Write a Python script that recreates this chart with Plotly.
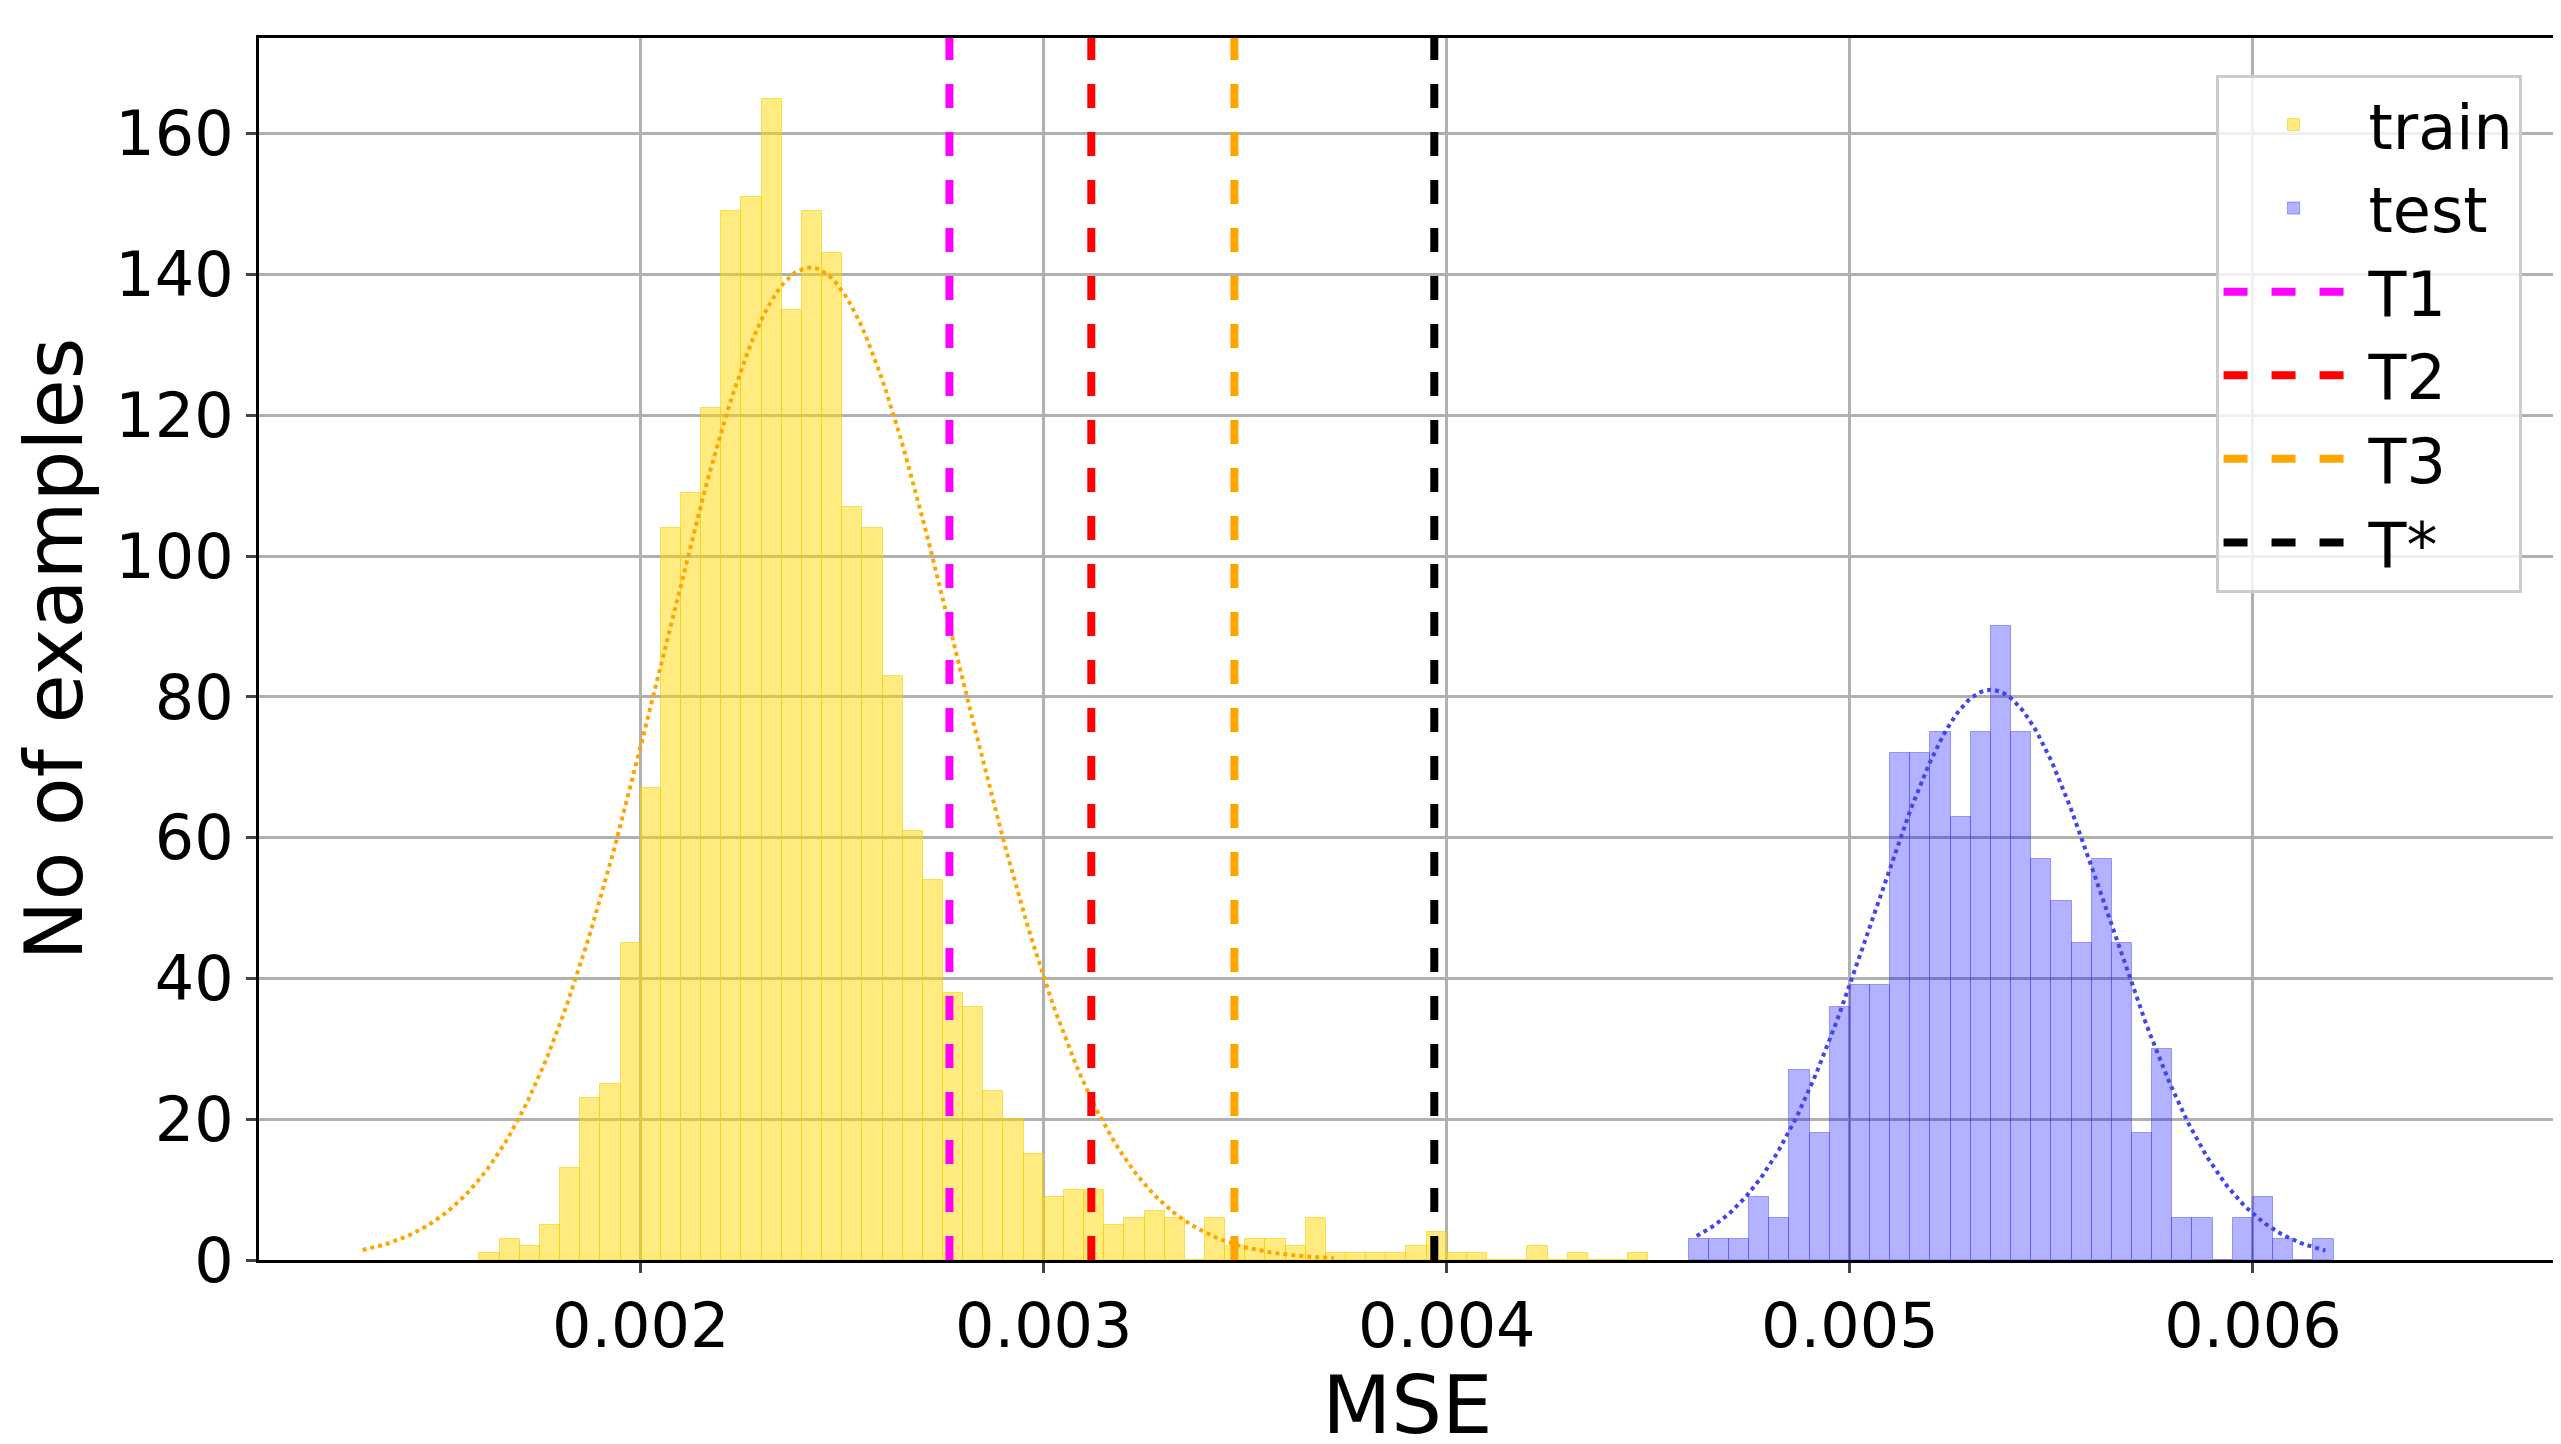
import numpy as np
import plotly.graph_objects as go

bin_w = 0.00005
train_start = 0.0016
train_counts = [1, 3, 2, 5, 13, 23, 25, 45, 67, 104, 109, 121, 149, 151, 165, 135, 149, 143,
                107, 104, 83, 61, 54, 38, 36, 24, 20, 15, 9, 10, 10, 5, 6, 7, 6, 0, 6, 2,
                3, 3, 2, 6, 1, 1, 1, 1, 2, 4, 1, 1, 0, 0, 2, 0, 1, 0, 0, 1]
test_start = 0.0046
test_counts = [3, 3, 3, 9, 6, 27, 18, 36, 39, 39, 72, 72, 75, 63, 75, 90, 75, 57, 51, 45,
               57, 45, 18, 30, 6, 6, 0, 6, 9, 3, 0, 3]
thresholds = {"T1": 0.002766, "T2": 0.003118, "T3": 0.003473, "T*": 0.003969}
thr_colors = {"T1": "#ff00ff", "T2": "#ff0000", "T3": "#ffa500", "T*": "#000000"}
# fitted normal curves: (mean, std, peak, x-from, x-to)
train_fit = (0.00242, 0.000366, 141, 0.00131, 0.00372)
test_fit = (0.00535, 0.00029, 81, 0.00462, 0.00618)

train_x = [train_start + bin_w * (i + 0.5) for i in range(len(train_counts))]
test_x = [test_start + bin_w * (i + 0.5) for i in range(len(test_counts))]

fig = go.Figure()
fig.add_bar(x=train_x, y=train_counts, width=bin_w, name="train",
            marker=dict(color="rgba(255,215,0,0.5)", line=dict(color="rgba(245,205,0,0.6)", width=1)))
fig.add_bar(x=test_x, y=test_counts, width=bin_w, name="test",
            marker=dict(color="rgba(0,0,255,0.3)", line=dict(color="rgba(60,60,255,0.45)", width=1)))

for name, (m, s, pk, a, b), col in [("trainfit", train_fit, "orange"), ("testfit", test_fit, "#4444ee")]:
    xs = np.linspace(a, b, 200)
    fig.add_scatter(x=xs, y=pk * np.exp(-(xs - m) ** 2 / (2 * s ** 2)), mode="lines",
                    line=dict(color=col, width=4, dash="dot"), showlegend=False)

for k, v in thresholds.items():
    fig.add_scatter(x=[v, v], y=[0, 173.6], mode="lines", name=k,
                    line=dict(color=thr_colors[k], width=8, dash="dash"))

axis = dict(showgrid=True, gridcolor="#b0b0b0", gridwidth=3, showline=True, linecolor="black",
            linewidth=3, mirror=True, ticks="outside", ticklen=10, tickwidth=3,
            tickfont=dict(size=62, color="black"), zeroline=False)
fig.update_xaxes(**axis, range=[0.001053, 0.006752], tickvals=[0.002, 0.003, 0.004, 0.005, 0.006],
                 ticktext=["0.002", "0.003", "0.004", "0.005", "0.006"],
                 title=dict(text="MSE", font=dict(size=80, color="black"), standoff=10))
fig.update_yaxes(**axis, range=[0, 173.6], tickvals=list(range(0, 161, 20)),
                 title=dict(text="No of examples", font=dict(size=80, color="black"), standoff=15))
fig.update_layout(width=2561, height=1444, barmode="overlay", bargap=0,
                  plot_bgcolor="white", paper_bgcolor="white",
                  font=dict(family="DejaVu Sans", color="black"),
                  margin=dict(l=251, r=10, t=30, b=192),
                  legend=dict(x=0.985, y=0.97, xanchor="right", yanchor="top",
                              font=dict(size=62), bordercolor="#cccccc", borderwidth=3,
                              bgcolor="rgba(255,255,255,0.8)", itemwidth=140, tracegroupgap=0))
fig.write_html("out.html")
